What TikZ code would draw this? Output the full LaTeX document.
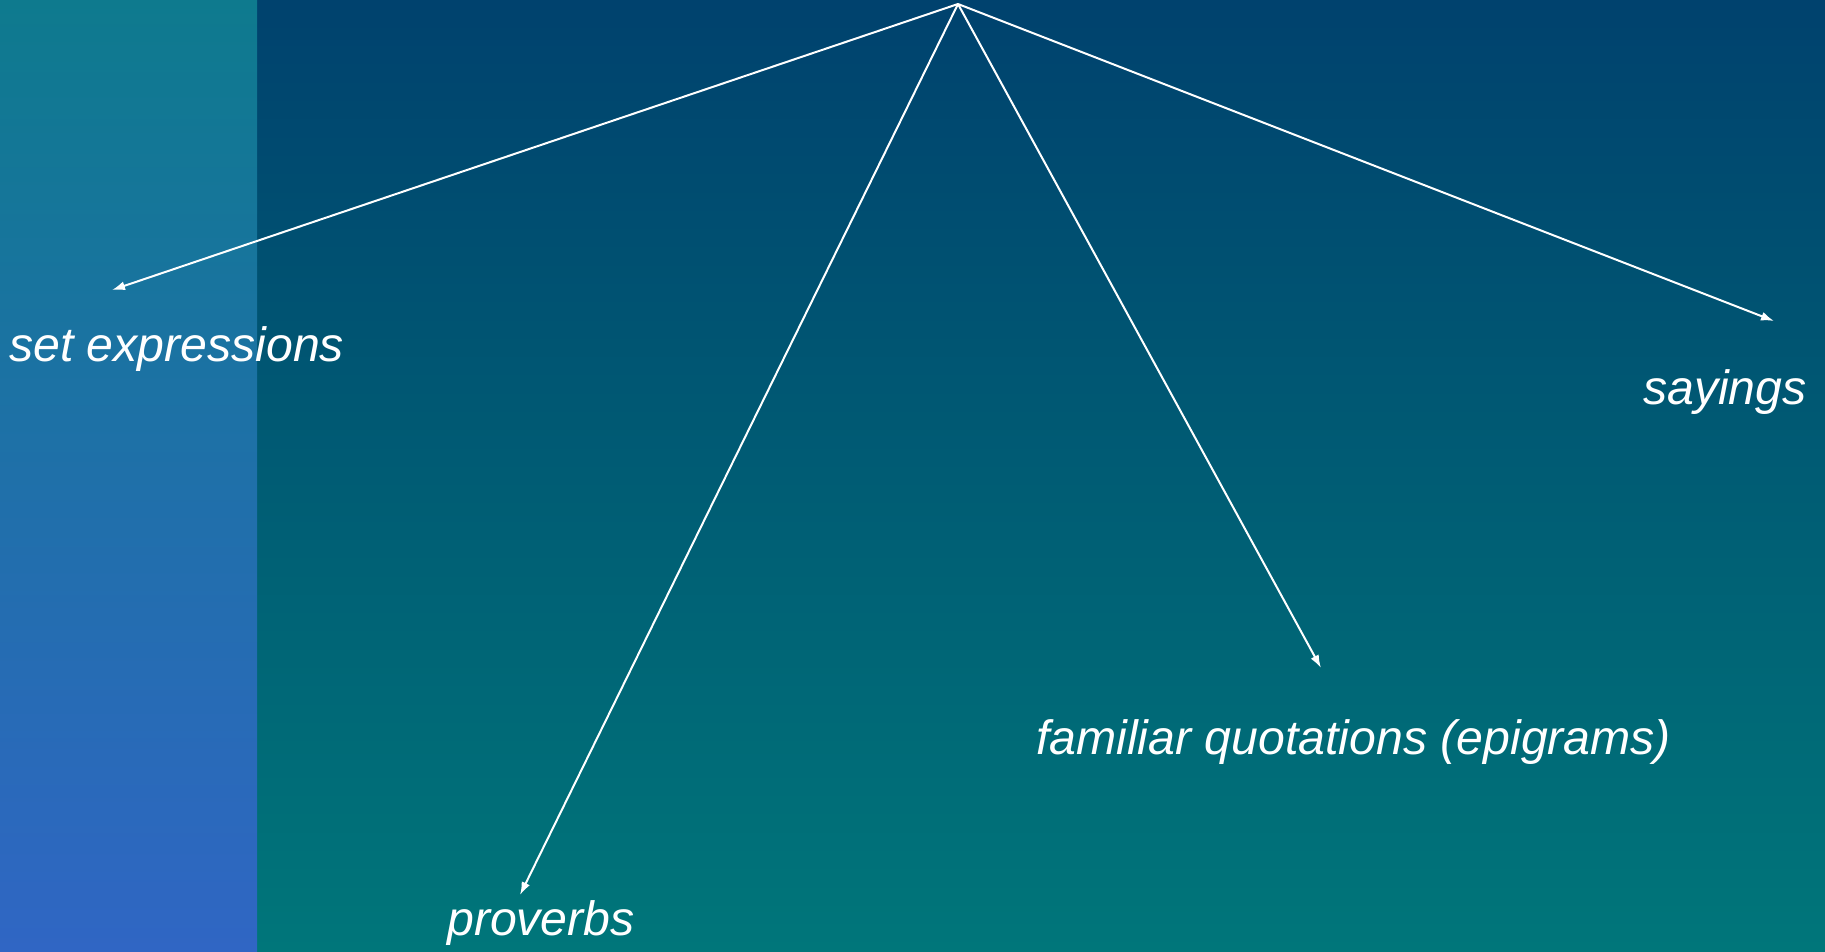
\documentclass[tikz,border=0pt]{standalone}
\usepackage{fontspec}
\setmainfont{Liberation Sans}
\usetikzlibrary{arrows.meta}
\definecolor{maintop}{RGB}{0,66,110}
\definecolor{mainbot}{RGB}{0,118,122}
\definecolor{striptop}{RGB}{14,122,142}
\definecolor{stripbot}{RGB}{48,102,196}
\tikzset{
  lbl/.style={anchor=base west, inner sep=0pt, text=white,
    font=\fontsize{48.2}{58}\selectfont\itshape},
  conn/.style={draw=white, line width=2pt,
    -{Latex[length=13pt,width=9pt]}}
}
\begin{document}
\begin{tikzpicture}[x=1pt,y=-1pt]
\useasboundingbox (0,0) rectangle (1825,951);
\shade[top color=maintop, bottom color=mainbot] (0,0) rectangle (1825,951);
\shade[top color=striptop, bottom color=stripbot] (0,0) rectangle (257,951);
\coordinate (apex) at (958,4);
\node[lbl] (setexp) at (9,361) {set expressions};
\node[lbl] (say) at (1643,404) {sayings};
\node[lbl] (fam) at (1036,754) {familiar quotations (epigrams)};
\node[lbl] (prov) at (447,935) {proverbs};
\coordinate (tset) at (112,290);
\coordinate (tsay) at (1774,321);
\coordinate (tfam) at (1321,668);
\coordinate (tprov) at (520,895);
\draw[conn] (apex) -- (tset);
\draw[conn] (apex) -- (tsay);
\draw[conn] (apex) -- (tfam);
\draw[conn] (apex) -- (tprov);
\end{tikzpicture}
\end{document}
